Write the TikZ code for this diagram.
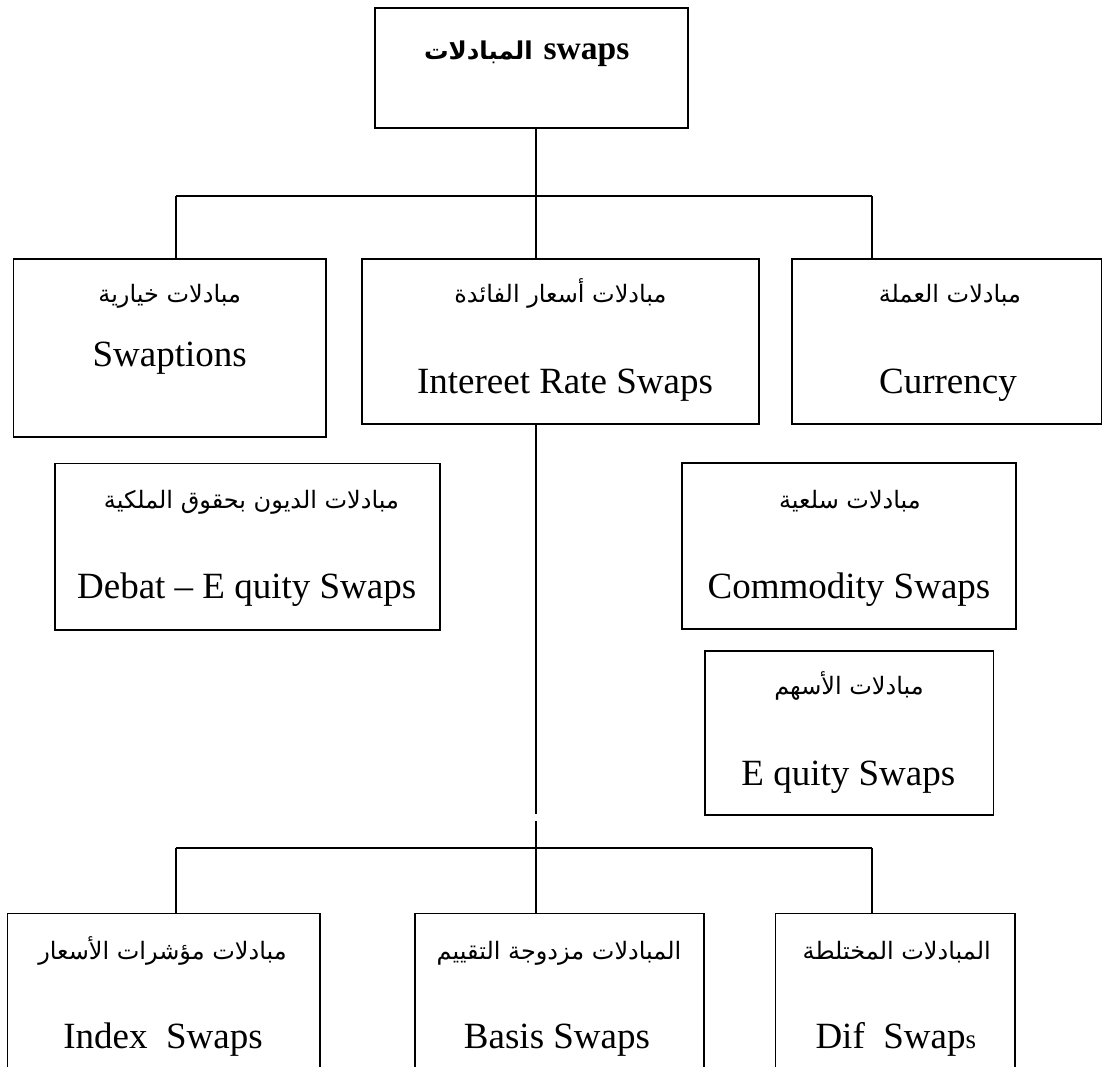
\documentclass[tikz,border=0pt]{standalone}
\usepackage{fontspec}
\setmainfont{Liberation Serif}
\newfontfamily\arabicfont[Script=Arabic]{DejaVu Sans}
\TeXXeTstate=1

\begin{document}
\begin{tikzpicture}[x=1pt,y=-1pt,
  box/.style={draw, line width=1.7pt, inner sep=0pt, outer sep=0pt},
  conn/.style={line width=1.7pt},
  en/.style={font=\fontsize{37}{40}\selectfont, anchor=base, inner sep=0pt},
  ar/.style={font=\arabicfont\fontsize{24}{28}\selectfont, anchor=base, inner sep=0pt}]

  % page frame
  \useasboundingbox (0,0) rectangle (1103,1067);
  \clip (0,0) rectangle (1103,1067);

  % boxes
  \node[box, minimum width=313pt,   minimum height=120pt]   (top) at (531.7,68.3)  {};
  \node[box, minimum width=312.7pt, minimum height=178.3pt] (swp) at (169.7,347.9) {};
  \node[box, minimum width=397pt,   minimum height=165pt]   (irs) at (560.5,341.2) {};
  \node[box, minimum width=309.8pt, minimum height=165pt]   (cur) at (946.6,341.2) {};
  \node[box, minimum width=385pt,   minimum height=166.7pt] (deb) at (247.5,546.7) {};
  \node[box, minimum width=334pt,   minimum height=166pt]   (com) at (849.3,546.3) {};
  \node[box, minimum width=288.5pt, minimum height=164pt]   (equ) at (849.25,732.7) {};
  \node[box, minimum width=312.7pt, minimum height=186.7pt] (idx) at (163.7,1006.7) {};
  \node[box, minimum width=289pt,   minimum height=186.7pt] (bas) at (559.5,1006.7) {};
  \node[box, minimum width=239.7pt, minimum height=186.7pt] (dif) at (895.2,1006.7) {};

  % bus coordinates
  \coordinate (busL)  at (175.7,195.7);
  \coordinate (busM)  at (535.7,195.7);
  \coordinate (busR)  at (871.7,195.7);
  \coordinate (gapA)  at (535.7,814);
  \coordinate (gapB)  at (535.7,820.7);
  \coordinate (bus2L) at (175.7,848.3);
  \coordinate (bus2R) at (871.7,848.3);

  % upper tree
  \draw[conn] (top.south -| busM) -- (irs.north -| busM);
  \draw[conn] (busL) -- (busR);
  \draw[conn] (busL) -- (swp.north -| busL);
  \draw[conn] (busR) -- (cur.north -| busR);

  % lower tree
  \draw[conn] (irs.south -| busM) -- (gapA);
  \draw[conn] (gapB) -- (bas.north -| gapB);
  \draw[conn] (bus2L) -- (bus2R);
  \draw[conn] (bus2L) -- (idx.north -| bus2L);
  \draw[conn] (bus2R) -- (dif.north -| bus2R);

  % labels
  \node[anchor=base, inner sep=0pt] (tTitle) at (526.7,60)
    {{\arabicfont\bfseries\fontsize{24.5}{28}\selectfont\beginR المبادلات\endR}\hspace*{11pt}{\bfseries\fontsize{33.5}{36}\selectfont swaps}};

  \node[ar] (aSwp) at (169.7,302)   {\beginR مبادلات خيارية\endR};
  \node[en] (eSwp) at (169.7,366.7) {Swaptions};

  \node[ar] (aIrs) at (560.5,302)   {\beginR مبادلات أسعار الفائدة\endR};
  \node[en] (eIrs) at (565,393.3)   {Intereet Rate Swaps};

  \node[ar] (aCur) at (950,302)     {\beginR مبادلات العملة\endR};
  \node[en] (eCur) at (948,393.3)   {Currency};

  \node[ar] (aDeb) at (251.5,508)   {\beginR مبادلات الديون بحقوق الملكية\endR};
  \node[en] (eDeb) at (246.7,598.3) {Debat – E quity Swaps};

  \node[ar] (aCom) at (850,508)     {\beginR مبادلات سلعية\endR};
  \node[en] (eCom) at (849,598)     {Commodity Swaps};

  \node[ar] (aEqu) at (849,694)     {\beginR مبادلات الأسهم\endR};
  \node[en] (eEqu) at (848.3,785)   {E quity Swaps};

  \node[ar] (aIdx) at (162.5,959)   {\beginR مبادلات مؤشرات الأسعار\endR};
  \node[en] (eIdx) at (163,1048.3)  {Index\ \ Swaps};

  \node[ar] (aBas) at (559,959)     {\beginR المبادلات مزدوجة التقييم\endR};
  \node[en] (eBas) at (557,1048.3)  {Basis Swaps};

  \node[ar] (aDif) at (896.7,959)   {\beginR المبادلات المختلطة\endR};
  \node[en] (eDif) at (895.8,1048.3) {Dif\ \ Swap{\fontsize{27}{30}\selectfont s}};
\end{tikzpicture}
\end{document}
